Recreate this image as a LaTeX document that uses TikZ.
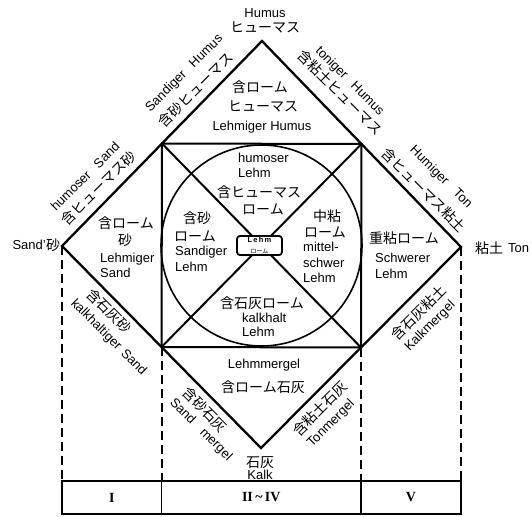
\documentclass[tikz,border=0pt]{standalone}
\usepackage{fontspec}
\setmainfont{Liberation Sans}
\newfontfamily\jp{Noto Sans CJK JP}
\newfontfamily\rom{Liberation Serif}
\usetikzlibrary{calc}
\begin{document}
\begin{tikzpicture}[x=1pt,y=-1pt,
 lat/.style={inner sep=0pt, font=\fontsize{13}{14}\selectfont, text height=9pt, text depth=0pt},
 jpn/.style={inner sep=0pt, font=\jp\fontsize{14}{16}\selectfont, text height=11.5pt, text depth=1.5pt},
 outline/.style={line width=2.3pt, line join=miter},
 sq/.style={line width=2pt},
 circ/.style={line width=1.6pt},
 dashline/.style={line width=2pt, dash pattern=on 9pt off 5pt},
 tab/.style={line width=1.6pt},
 num/.style={inner sep=0pt, font=\rom\bfseries\fontsize{14}{16}\selectfont},
]
\useasboundingbox (0,0) rectangle (532,516);
% geometry
\coordinate (T) at (262,41);
\coordinate (L) at (62,246);
\coordinate (R) at (461,247);
\coordinate (B) at (261,448);
\coordinate (TL) at ($(T)!.5!(L)$);
\coordinate (TR) at ($(T)!.5!(R)$);
\coordinate (BL) at ($(B)!.5!(L)$);
\coordinate (BR) at ($(B)!.5!(R)$);
\coordinate (O) at ($(TL)!.5!(BR)$);
\coordinate (ytab) at (0,481);
\coordinate (ybot) at (0,514);
\coordinate (Ld) at (L |- ytab);
\coordinate (BLd) at (BL |- ytab);
\coordinate (BRd) at (BR |- ytab);
\coordinate (Rd) at (R |- ytab);
\coordinate (Lb) at (L |- ybot);
\coordinate (BLb) at (BL |- ybot);
\coordinate (BRb) at (BR |- ybot);
\coordinate (Rb) at (R |- ybot);
% circle, square, diagonals
\draw[circ] (O) circle (100.5);
\draw[sq] (TL) -- (TR) -- (BR) -- (BL) -- cycle;
\draw[sq] (TL) -- (BR);
\draw[sq] (TR) -- (BL);
\draw[outline] (T) -- (R) -- (B) -- (L) -- cycle;
% dashed lines
\draw[dashline] (L) -- (Ld);
\draw[dashline] (BL) -- (BLd);
\draw[dashline] (BR) -- (BRd);
\draw[dashline] (R) -- (Rd);
% table
\draw[tab] (Ld) rectangle (Rb);
\draw[tab] (BLd) -- (BLb);
\draw[tab] (BRd) -- (BRb);
\node[num] (n1) at ($(Ld)!.5!(BLb)$) {I};
\node[num] (n2) at ($(BLd)!.5!(BRb)$) {II\,\textasciitilde\,IV};
\node[num] (n3) at ($(BRd)!.5!(Rb)$) {V};
% center box
\node[draw, line width=1.8pt, rounded corners=3pt, fill=white, minimum width=45pt, minimum height=18pt, inner sep=1pt, align=center] (box) at (259.5,245.5)
 {\fontsize{7.5}{7.5}\selectfont\bfseries L\,e\,h\,m\\[-0.5pt]{\jp\fontsize{6}{6}\selectfont ローム}};
% outer vertex labels
\node[lat] (hum1) at (265,13) {Humus};
\node[jpn] (hum2) at (265,28) {ヒューマス};
\node[lat, anchor=east] (sand0) at (46,245) {Sand'};
\node[jpn, anchor=west] (sand0j) at (46,245) {砂};
\node[jpn, anchor=west] (ton0j) at (475,248) {粘土};
\node[lat, anchor=west] (ton0) at (508,248) {Ton};
\node[jpn] (kalk1) at (260,462) {石灰};
\node[lat] (kalk2) at (260,475) {Kalk};
% top triangle
\node[jpn] (a1) at (260,88) {含ローム};
\node[jpn] (a2) at (263,107) {ヒューマス};
\node[lat] (a3) at (262,126) {Lehmiger Humus};
% left triangle
\node[jpn] (b1) at (126,223) {含ローム};
\node[jpn] (b2) at (125,240) {砂};
\node[lat, anchor=west] (b3) at (100,258) {Lehmiger};
\node[lat, anchor=west] (b4) at (100,273) {Sand};
% right triangle
\node[jpn] (c1) at (404,238) {重粘ローム};
\node[lat, anchor=west] (c2) at (375,258) {Schwerer};
\node[lat, anchor=west] (c3) at (375,274) {Lehm};
% bottom triangle
\node[lat] (d1) at (264,364) {Lehmmergel};
\node[jpn] (d2) at (263,387) {含ローム石灰};
% circle top
\node[lat, anchor=west] (e1) at (238,158) {humoser};
\node[lat, anchor=west] (e2) at (238,173) {Lehm};
\node[jpn] (e3) at (259,192) {含ヒューマス};
\node[jpn] (e4) at (263,209) {ローム};
% circle left
\node[jpn] (f1) at (197,218) {含砂};
\node[jpn] (f2) at (195,236) {ローム};
\node[lat, anchor=west] (f3) at (175,251) {Sandiger};
\node[lat, anchor=west] (f4) at (175,267) {Lehm};
% circle right
\node[jpn] (g1) at (327,216) {中粘};
\node[jpn] (g2) at (325,232) {ローム};
\node[lat, anchor=west] (g3) at (303,247) {mittel-};
\node[lat, anchor=west] (g4) at (303,263) {schwer};
\node[lat, anchor=west] (g5) at (303,278) {Lehm};
% circle bottom
\node[jpn] (h1) at (262,303) {含石灰ローム};
\node[lat, anchor=west] (h2) at (242,318) {kalkhalt};
\node[lat, anchor=west] (h3) at (242,332) {Lehm};
% edge labels: top-left edge
\node[lat, rotate=45] (p1) at ($(L)!0.73!(T)!34pt!90:(T)$) {Sandiger\hspace{10pt}Humus};
\node[jpn, rotate=45] (p2) at ($(L)!0.717!(T)!13pt!90:(T)$) {含砂ヒューマス};
\node[lat, rotate=45] (p3) at ($(L)!0.23!(T)!32pt!90:(T)$) {humoser\hspace{10pt}Sand};
\node[jpn, rotate=45] (p4) at ($(L)!0.234!(T)!14pt!90:(T)$) {含ヒューマス砂};
% top-right edge
\node[lat, rotate=-45] (q1) at ($(T)!0.314!(R)!36pt!90:(R)$) {toniger\hspace{10pt}Humus};
\node[jpn, rotate=-45] (q2) at ($(T)!0.32!(R)!20pt!90:(R)$) {含粘土ヒューマス};
\node[lat, rotate=-45] (q3) at ($(T)!0.776!(R)!35pt!90:(R)$) {Humiger\hspace{12pt}Ton};
\node[jpn, rotate=-45] (q4) at ($(T)!0.768!(R)!12.5pt!90:(R)$) {含ヒューマス粘土};
% bottom-left edge
\node[jpn, rotate=-45] (r1) at ($(L)!0.28!(B)!12.5pt!-90:(B)$) {含石灰砂};
\node[lat, rotate=-45] (r2) at ($(L)!0.345!(B)!30pt!-90:(B)$) {kalkhaltiger\hspace{5pt}Sand};
\node[jpn, rotate=-45] (r3) at ($(L)!0.765!(B)!13.5pt!-90:(B)$) {含砂石灰};
\node[lat, rotate=-45] (r4) at ($(L)!0.805!(B)!29pt!-90:(B)$) {Sand\hspace{12pt}mergel};
% bottom-right edge
\node[jpn, rotate=45] (s1) at ($(R)!0.27!(B)!17pt!90:(B)$) {含石灰粘土};
\node[lat, rotate=45] (s2) at ($(R)!0.275!(B)!33pt!90:(B)$) {Kalkmergel};
\node[jpn, rotate=45] (s3) at ($(R)!0.755!(B)!14.5pt!90:(B)$) {含粘土石灰};
\node[lat, rotate=45] (s4) at ($(R)!0.765!(B)!31.5pt!90:(B)$) {Tonmergel};
\end{tikzpicture}
\end{document}
